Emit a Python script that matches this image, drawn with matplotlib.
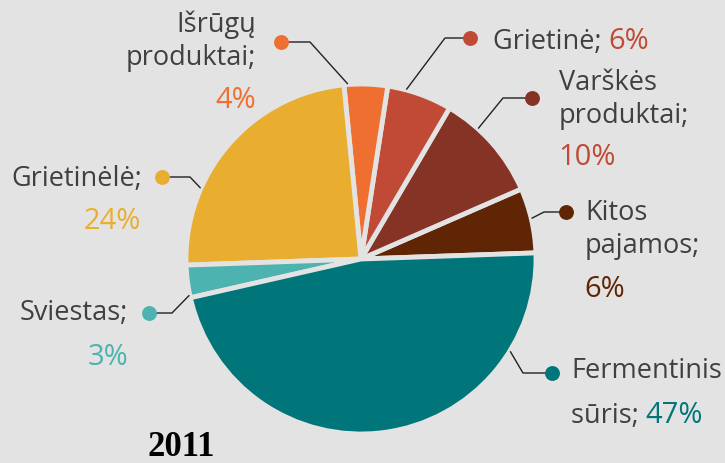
import matplotlib.pyplot as plt
import numpy as np

# data
labels = ["Kitos\npajamos;", "Varškės\nproduktai;", "Grietinė;", "Išrūgų\nproduktai;",
          "Grietinėlė;", "Sviestas;", "Fermentinis\nsūris;"]
shares = [6, 10, 6, 4, 24, 3, 47]
year = "2011"

colors = ["#602505", "#853325", "#c04a35", "#ee6f2f", "#e9ae2f", "#4db3b0", "#00767b"]
pct_colors = ["#602505", "#c04a35", "#c04a35", "#ee6f2f", "#e9ae2f", "#4db3b0", "#00767b"]
bg = "#e3e3e3"
txt = "#404040"

W, H = 725, 463
fig = plt.figure(figsize=(W / 100, H / 100), dpi=100, facecolor=bg)
ax = fig.add_axes([0, 0, 1, 1])

cx, cy, r = 361, H - 259, 175
wedges, _ = ax.pie(shares, colors=colors, startangle=2, counterclock=True,
                   center=(cx, cy), radius=r, frame=True,
                   wedgeprops=dict(edgecolor=bg, linewidth=3.5))
ax.set_xlim(0, W)
ax.set_ylim(0, H)
ax.set_aspect("equal")
ax.axis("off")

# callout layout (pixel coords from top): anchor fraction along wedge, elbow, dot
frac = [0.53, 0.68, 0.71, 0.92, 0.70, 0.93, 0.80]
elbow = [(544, 212), (503, 98), (445, 38), (310, 42), (190, 177), (172, 313), (523, 373)]
dot = [(566, 212), (532, 98), (470, 38), (281, 42), (162, 177), (149, 313), (552, 373)]

for w, f, e, d, c in zip(wedges, frac, elbow, dot, colors):
    th = np.deg2rad(w.theta1 + f * (w.theta2 - w.theta1))
    x0, y0 = cx + (r + 1) * np.cos(th), cy + (r + 1) * np.sin(th)
    ax.plot([x0, e[0], d[0]], [y0, H - e[1], H - d[1]], color="#222222", lw=1, zorder=3)
    ax.scatter([d[0]], [H - d[1]], s=115, color=c, zorder=4, linewidths=0)

font = dict(family="Open Sans", size=19.5)
pfont = dict(family="Open Sans", size=21)
pcts = [f"{v}%" for v in shares]


def name_text(x, ys, lines, ha):
    for yy, s in zip(ys, lines):
        ax.text(x, H - yy, s, ha=ha, va="baseline", color=txt, **font)


def pct_text(x, y, s, pc, ha):
    ax.text(x, H - y, s, ha=ha, va="baseline", color=pc, **pfont)


def inline_pct(x, y, name, pct, pc):
    t = ax.text(x, H - y, name + " ", ha="left", va="baseline", color=txt, **font)
    fig.canvas.draw()
    bb = t.get_window_extent().transformed(ax.transData.inverted())
    pct_text(bb.x1, y, pct, pc, "left")


# Kitos pajamos
name_text(585, [220, 253], labels[0].split("\n"), "left")
pct_text(584, 297, pcts[0], pct_colors[0], "left")
# Varškės produktai
name_text(559, [90, 123], labels[1].split("\n"), "left")
pct_text(558, 165, pcts[1], pct_colors[1], "left")
# Grietinė (one line)
inline_pct(493, 49, labels[2], pcts[2], pct_colors[2])
# Išrūgų produktai
name_text(256, [32, 65], labels[3].split("\n"), "right")
pct_text(256, 108, pcts[3], pct_colors[3], "right")
# Grietinėlė
name_text(142, [186], [labels[4]], "right")
pct_text(141, 229, pcts[4], pct_colors[4], "right")
# Sviestas
name_text(128, [320], [labels[5]], "right")
pct_text(128, 365, pcts[5], pct_colors[5], "right")
# Fermentinis sūris
l1, l2 = labels[6].split("\n")
name_text(571, [378], [l1], "left")
inline_pct(571, 423, l2, pcts[6], pct_colors[6])

ax.text(181, H - 456, year, ha="center", va="baseline", color="black",
        family="Liberation Serif", weight="bold", size=25)

fig.savefig("out.png", dpi=100, facecolor=bg)
